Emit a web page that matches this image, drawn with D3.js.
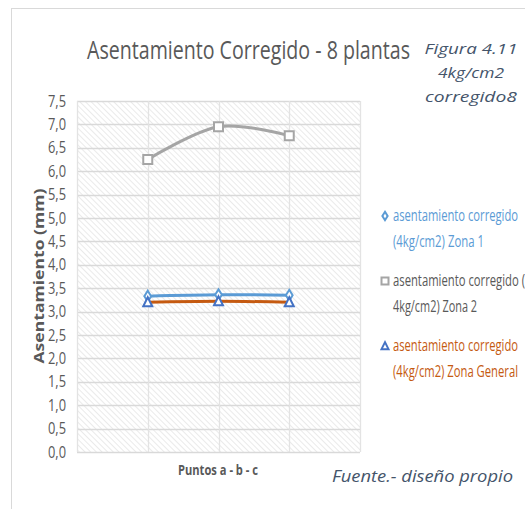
<!DOCTYPE html>
<html>
<head>
<meta charset="utf-8">
<script src="https://cdn.jsdelivr.net/npm/d3@7"></script>
<style>
  html, body { margin: 0; padding: 0; background: #fff; }
  svg { display: block; }
</style>
</head>
<body>
<svg id="chart" width="525" height="509"></svg>
<script>
// Points along the x axis (a, b, c) and settlement values in mm
const categories = ["a", "b", "c"];
const zona1 = [3.33, 3.36, 3.35];
const zona2 = [6.25, 6.95, 6.76];
const zonaGeneral = [3.2, 3.22, 3.2];
const yTicks = [0, 0.5, 1, 1.5, 2, 2.5, 3, 3.5, 4, 4.5, 5, 5.5, 6, 6.5, 7, 7.5];
const seriesNames = [
  ["asentamiento corregido", "(4kg/cm2) Zona 1"],
  ["asentamiento corregido (", "4kg/cm2) Zona 2"],
  ["asentamiento corregido", "(4kg/cm2) Zona General"]
];

const svg = d3.select("#chart");
const font = "'Open Sans', sans-serif";

// condensed text: fixes a string to a given width
function fit(sel, w) {
  return sel.attr("textLength", w).attr("lengthAdjust", "spacingAndGlyphs");
}

// chart frame
svg.append("rect").attr("x", 11.5).attr("y", 8.5).attr("width", 530).attr("height", 520)
  .attr("fill", "#fff").attr("stroke", "#d9d9d9");

const plot = { left: 77, right: 360, top: 101, bottom: 452 };
const x = d3.scaleLinear().domain([0, categories.length + 1]).range([plot.left, plot.right]);
const y = d3.scaleLinear().domain([0, 7.5]).range([plot.bottom, plot.top]);

// diagonal hatch fill of the plot area
const defs = svg.append("defs");
const pat = defs.append("pattern").attr("id", "hatch").attr("patternUnits", "userSpaceOnUse")
  .attr("width", 4).attr("height", 4).attr("patternTransform", "rotate(-45)");
pat.append("rect").attr("width", 4).attr("height", 4).attr("fill", "#fff");
pat.append("line").attr("x1", 0).attr("y1", 0).attr("x2", 0).attr("y2", 4)
  .attr("stroke", "#dcdcdc").attr("stroke-width", 1.2);
svg.append("rect").attr("x", plot.left).attr("y", plot.top)
  .attr("width", plot.right - plot.left).attr("height", plot.bottom - plot.top)
  .attr("fill", "url(#hatch)");

// gridlines
svg.append("g").selectAll("line").data(yTicks).join("line")
  .attr("x1", plot.left).attr("x2", plot.right)
  .attr("y1", d => Math.round(y(d)) + 0.5).attr("y2", d => Math.round(y(d)) + 0.5)
  .attr("stroke", "#d9d9d9").attr("stroke-width", 1.3);
svg.append("g").selectAll("line").data(d3.range(categories.length + 2)).join("line")
  .attr("x1", d => Math.round(x(d)) + 0.5).attr("x2", d => Math.round(x(d)) + 0.5)
  .attr("y1", plot.top).attr("y2", plot.bottom)
  .attr("stroke", "#e3e3e3").attr("stroke-width", 1.3);

// y axis labels
const fmt = d3.formatLocale({ decimal: ",", thousands: ".", grouping: [3], currency: ["", ""] }).format(".1f");
const yAxis = d3.axisLeft(y).tickValues(yTicks).tickFormat(fmt).tickSize(0).tickPadding(11);
const gy = svg.append("g").attr("transform", `translate(${plot.left},0)`).call(yAxis);
gy.select(".domain").remove();
gy.selectAll("text").attr("font-family", font).attr("font-size", 16).attr("fill", "#595959")
  .attr("textLength", 18).attr("lengthAdjust", "spacingAndGlyphs");

// axis titles
fit(svg.append("text").attr("transform", "translate(44,276) rotate(-90)")
  .attr("text-anchor", "middle").attr("font-family", font)
  .attr("font-weight", "bold").attr("font-size", 14).attr("fill", "#595959"), 175)
  .text("Asentamiento (mm)");
fit(svg.append("text").attr("x", 218).attr("y", 475).attr("text-anchor", "middle")
  .attr("font-family", font).attr("font-weight", "bold").attr("font-size", 14).attr("fill", "#595959"), 80)
  .text("Puntos a - b - c");

// title and captions
fit(svg.append("text").attr("x", 87).attr("y", 59).attr("font-family", font)
  .attr("font-size", 25).attr("fill", "#595959"), 323)
  .text("Asentamiento Corregido - 8 plantas");
const capColor = "#44546a";
[["Figura 4.11", 54, 93], ["4kg/cm2", 78, 66], ["corregido8", 102, 92]].forEach(([t, yy, w]) => {
  fit(svg.append("text").attr("x", 471).attr("y", yy).attr("text-anchor", "middle")
    .attr("font-family", font).attr("font-style", "italic")
    .attr("font-size", 15).attr("fill", capColor), w).text(t);
});
fit(svg.append("text").attr("x", 332).attr("y", 482)
  .attr("font-family", font).attr("font-style", "italic")
  .attr("font-size", 16).attr("fill", capColor), 181).text("Fuente.- diseño propio");

// series
const series = [
  { values: zona1, line: "#5b9bd5", marker: "diamond", mcolor: "#5b9bd5", text: "#5b9bd5" },
  { values: zona2, line: "#a5a5a5", marker: "square", mcolor: "#a5a5a5", text: "#595959" },
  { values: zonaGeneral, line: "#c55a11", marker: "triangle", mcolor: "#4472c4", text: "#c55a11" }
];
const lineGen = d3.line().x((d, i) => x(i + 1)).y(d => y(d)).curve(d3.curveCardinal.tension(0));
series.forEach(s => {
  svg.append("path").datum(s.values).attr("d", lineGen)
    .attr("fill", "none").attr("stroke", s.line).attr("stroke-width", 3);
});

function markerPath(type, size) {
  const h = size / 2;
  if (type === "square") return `M${-h},${-h}H${h}V${h}H${-h}Z`;
  if (type === "diamond") return `M0,${-h * 1.2}L${h * 0.75},0L0,${h * 1.2}L${-h * 0.75},0Z`;
  return `M0,${-h * 1.1}L${h},${h * 0.9}H${-h}Z`;
}
series.forEach(s => {
  svg.append("g").selectAll("path").data(s.values).join("path")
    .attr("transform", (d, i) => `translate(${x(i + 1)},${y(d)})`)
    .attr("d", markerPath(s.marker, 9))
    .attr("fill", "#fff").attr("stroke", s.mcolor).attr("stroke-width", 2);
});

// legend
const legendY = [216, 281, 346];
const legendW = [[125, 91], [132, 84], [125, 125]];
series.forEach((s, i) => {
  const g = svg.append("g").attr("transform", `translate(385,${legendY[i]})`);
  g.append("path").attr("d", markerPath(s.marker, 7))
    .attr("fill", "#fff").attr("stroke", s.mcolor).attr("stroke-width", 2);
  seriesNames[i].forEach((t, j) => {
    fit(g.append("text").attr("x", 8).attr("y", 5 + j * 26)
      .attr("font-family", font).attr("font-size", 16).attr("fill", s.text), legendW[i][j]).text(t);
  });
});
</script>
</body>
</html>
